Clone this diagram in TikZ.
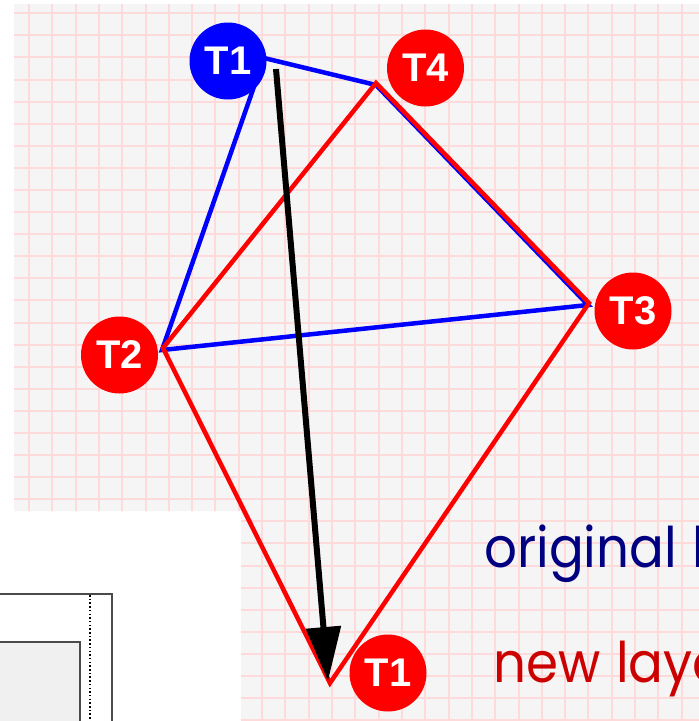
\documentclass[tikz,border=0pt]{standalone}
\usepackage{fontspec}
\setmainfont{Liberation Sans}
\newfontfamily\handfont[FakeStretch=0.92, WordSpace=1.15]{Poppins}
\usetikzlibrary{arrows.meta}
\definecolor{paper}{HTML}{F5F5F5}
\definecolor{gridpink}{HTML}{FFDADA}
\definecolor{navy}{HTML}{000080}
\definecolor{darkred}{HTML}{CC0000}
\definecolor{framegray}{HTML}{4A4A4A}
\definecolor{panel}{HTML}{F0F0F0}

\begin{document}
\begin{tikzpicture}[x=1pt, y=-1pt,
    task/.style={circle, fill=#1, text=white, minimum size=77pt, inner sep=0pt,
        font=\fontsize{40}{40}\selectfont\bfseries},
    gridline/.style={gridpink, line width=2pt},
    framebox/.style={framegray, line width=1.5pt},
    caption/.style={anchor=base west, inner sep=0pt, font=\handfont\fontsize{56}{56}\selectfont}]
    \clip (0,0) rectangle (699,721);
    \fill[white] (0,0) rectangle (699,721);
    % squared paper
    \begin{scope}
        \clip (14,4) -- (699,4) -- (699,721) -- (241,721) -- (241,511) -- (14,511) -- cycle;
        \fill[paper] (0,0) rectangle (699,721);
        \foreach \i in {0,...,29}
            \draw[gridline] ({round(29+23.31*\i)},0) -- ({round(29+23.31*\i)},721);
        \foreach \j in {0,...,32}
            \draw[gridline] (0,{round(13.3+22.09*\j)}) -- (699,{round(13.3+22.09*\j)});
    \end{scope}
    % window in the corner
    \draw[framebox, fill=white] (-5,594) rectangle (112,730);
    \draw[framebox, fill=panel] (-5,642) rectangle (80,730);
    \draw[black, line width=2.5pt, dash pattern=on 1.5pt off 2.2pt] (90,595) -- (90,721);

    % corners of the two layouts
    \coordinate (b1) at (264,58);
    \coordinate (b4) at (376,85);
    \coordinate (b3) at (588,305);
    \coordinate (b2) at (162,350);
    \coordinate (r4) at (376,83);
    \coordinate (r3) at (589,303);
    \coordinate (r2) at (163,348);
    \coordinate (r1) at (330,683);
    \draw[blue, line width=4.5pt] (b1) -- (b4) -- (b3) -- (b2) -- cycle;
    \draw[red, line width=4.5pt] (r4) -- (r3) -- (r1) -- (r2) -- cycle;

    % move of T1
    \coordinate (a0) at (276,69);
    \coordinate (a1) at (328,681);
    \draw[line width=6pt, -{Triangle[length=54pt, width=34pt]}] (a0) -- (a1);

    \node[task=blue] (t1old) at (228,61) {T1};
    \node[task=red] (t4) at (425.5,68) {T4};
    \node[task=red] (t3) at (633,311) {T3};
    \node[task=red] (t2) at (119.5,355) {T2};
    \node[task=red] (t1new) at (388,673) {T1};

    \node[caption, text=navy] (orig) at (484,567) {original layout};
    \node[caption, text=darkred] (new) at (493,682) {new layout};
\end{tikzpicture}
\end{document}
